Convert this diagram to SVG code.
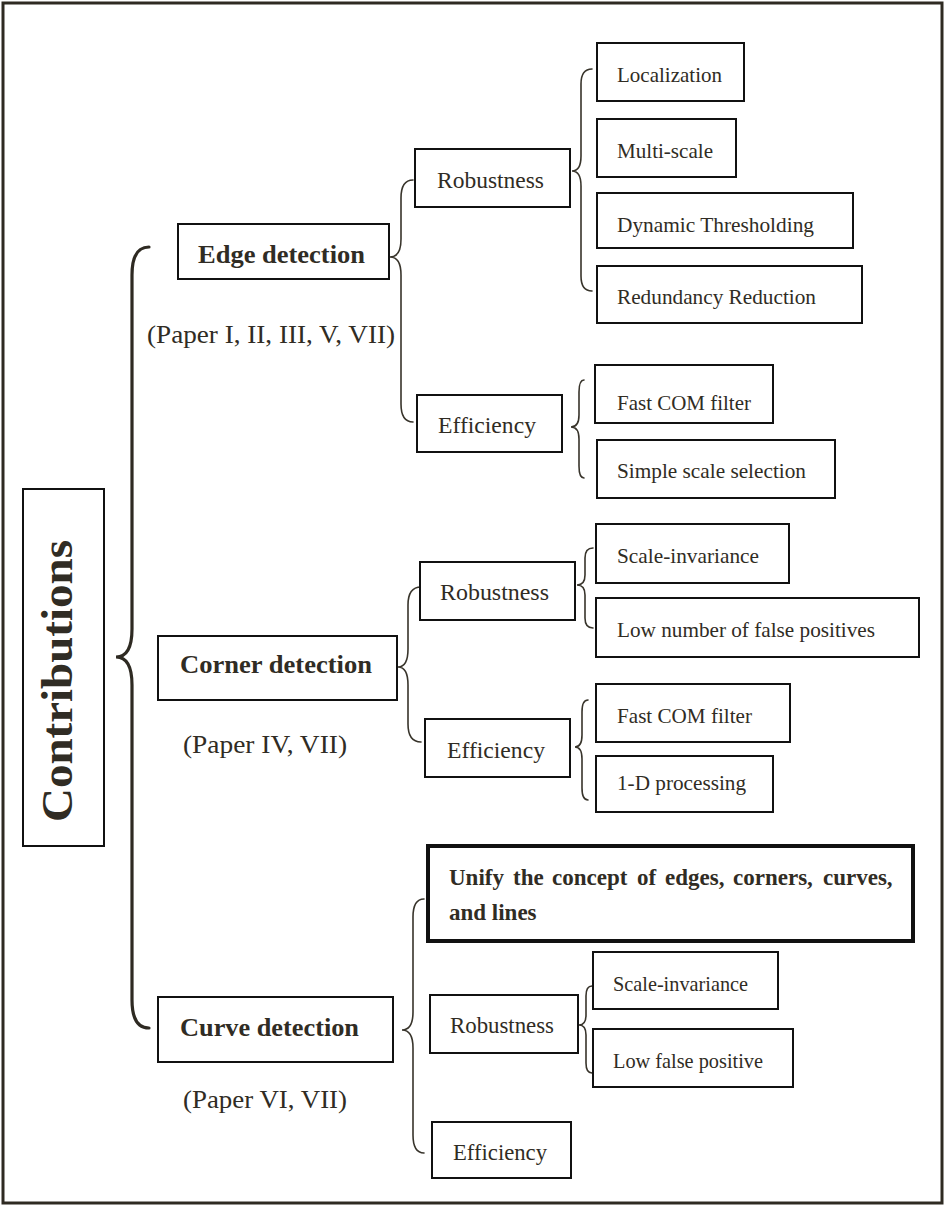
<svg xmlns="http://www.w3.org/2000/svg" width="945" height="1206" viewBox="0 0 945 1206">
<style>
.box{fill:#fff;stroke:#111;stroke-width:2}
.thick{fill:#fff;stroke:#111;stroke-width:4}
.br{fill:none;stroke:#38342b;stroke-width:1.6;stroke-linecap:round}
.bbr{fill:none;stroke:#2e2a22;stroke-width:3.2;stroke-linecap:round}
text{font-family:'Liberation Serif','Times New Roman',Times,Tinos,'Nimbus Roman',serif;fill:#302c24}
.h{font-size:25px;font-weight:bold}
.p{font-size:25px}
.m{font-size:24px}
.l{font-size:21px}
.u{font-size:23px;font-weight:bold}
</style>
<rect x="3" y="3" width="939" height="1200" fill="#fff" stroke="#2e2a22" stroke-width="3"/>
<g id="connectors">
<path class="bbr" d="M149,247 Q132,247 132,275 L132,629 Q132,657 116,657 Q132,657 132,685 L132,1000 Q132,1028 149,1028"/>
<path class="br" d="M413,180 Q401,180 401,198 L401,239 Q401,257 390,257 Q401,257 401,275 L401,404 Q401,422 413,422"/>
<path class="br" d="M592,69 Q581,69 581,84 L581,156 Q581,171 572,171 Q581,171 581,186 L581,276 Q581,291 592,291"/>
<path class="br" d="M584,380 Q579,380 579,392 L579,415 Q579,427 571,427 Q579,427 579,439 L579,466 Q579,478 584,478"/>
<path class="br" d="M421,587 Q408,587 408,605 L408,649 Q408,667 398,667 Q408,667 408,685 L408,724 Q408,742 421,742"/>
<path class="br" d="M593,548 Q585,548 585,558 L585,575 Q585,585 577,585 Q585,585 585,595 L585,618 Q585,628 593,628"/>
<path class="br" d="M588,700 Q582,700 582,712 L582,735 Q582,747 575,747 Q582,747 582,759 L582,788 Q582,800 588,800"/>
<path class="br" d="M424,899 Q413,899 413,917 L413,1012 Q413,1030 402,1030 Q413,1030 413,1048 L413,1135 Q413,1153 424,1153"/>
<path class="br" d="M592,986 Q586,986 586,996 L586,1015 Q586,1025 579,1025 Q586,1025 586,1035 L586,1063 Q586,1073 592,1073"/>
</g>
<g id="contributions">
<rect class="box" x="23" y="489" width="81" height="357"/>
<text transform="translate(72,681) rotate(-90)" x="-141" y="0" font-size="44" font-weight="bold" textLength="282" lengthAdjust="spacingAndGlyphs">Contributions</text>
</g>
<g id="edge">
<rect class="box" x="178" y="224" width="211" height="55"/>
<text class="h" x="198" y="263" textLength="167" lengthAdjust="spacingAndGlyphs">Edge detection</text>
<text class="p" x="147" y="343" textLength="248" lengthAdjust="spacingAndGlyphs">(Paper I, II, III, V, VII)</text>
</g>
<g id="edge-robustness">
<rect class="box" x="415" y="149" width="155" height="58"/>
<text class="m" x="437" y="188" textLength="107" lengthAdjust="spacingAndGlyphs">Robustness</text>
</g>
<g id="edge-efficiency">
<rect class="box" x="417" y="395" width="145" height="57"/>
<text class="m" x="438" y="433" textLength="98" lengthAdjust="spacingAndGlyphs">Efficiency</text>
</g>
<g id="localization">
<rect class="box" x="597" y="43" width="147" height="58"/>
<text class="l" x="617" y="82" textLength="105" lengthAdjust="spacingAndGlyphs">Localization</text>
</g>
<g id="multiscale">
<rect class="box" x="597" y="119" width="139" height="58"/>
<text class="l" x="617" y="158" textLength="96" lengthAdjust="spacingAndGlyphs">Multi-scale</text>
</g>
<g id="dynamic">
<rect class="box" x="597" y="193" width="256" height="55"/>
<text class="l" x="617" y="232" textLength="197" lengthAdjust="spacingAndGlyphs">Dynamic Thresholding</text>
</g>
<g id="redundancy">
<rect class="box" x="597" y="266" width="265" height="57"/>
<text class="l" x="617" y="304" textLength="199" lengthAdjust="spacingAndGlyphs">Redundancy Reduction</text>
</g>
<g id="edge-fastcom">
<rect class="box" x="595" y="365" width="178" height="58"/>
<text class="l" x="617" y="410" textLength="134" lengthAdjust="spacingAndGlyphs">Fast COM filter</text>
</g>
<g id="edge-simplescale">
<rect class="box" x="597" y="440" width="238" height="58"/>
<text class="l" x="617" y="478" textLength="189" lengthAdjust="spacingAndGlyphs">Simple scale selection</text>
</g>
<g id="corner">
<rect class="box" x="158" y="636" width="239" height="64"/>
<text class="h" x="180" y="673" textLength="192" lengthAdjust="spacingAndGlyphs">Corner detection</text>
<text class="p" x="183" y="753" textLength="164" lengthAdjust="spacingAndGlyphs">(Paper IV, VII)</text>
</g>
<g id="corner-robustness">
<rect class="box" x="420" y="562" width="155" height="58"/>
<text class="m" x="440" y="600" textLength="109" lengthAdjust="spacingAndGlyphs">Robustness</text>
</g>
<g id="corner-efficiency">
<rect class="box" x="425" y="719" width="145" height="58"/>
<text class="m" x="447" y="758" textLength="98" lengthAdjust="spacingAndGlyphs">Efficiency</text>
</g>
<g id="corner-scaleinv">
<rect class="box" x="596" y="524" width="193" height="59"/>
<text class="l" x="617" y="563" textLength="142" lengthAdjust="spacingAndGlyphs">Scale-invariance</text>
</g>
<g id="corner-lownumber">
<rect class="box" x="596" y="598" width="323" height="59"/>
<text class="l" x="617" y="637" textLength="258" lengthAdjust="spacingAndGlyphs">Low number of false positives</text>
</g>
<g id="corner-fastcom">
<rect class="box" x="596" y="684" width="194" height="58"/>
<text class="l" x="617" y="723" textLength="135" lengthAdjust="spacingAndGlyphs">Fast COM filter</text>
</g>
<g id="corner-1d">
<rect class="box" x="596" y="756" width="177" height="56"/>
<text class="l" x="617" y="790" textLength="129" lengthAdjust="spacingAndGlyphs">1-D processing</text>
</g>
<g id="curve">
<rect class="box" x="158" y="997" width="235" height="65"/>
<text class="h" x="180" y="1036" textLength="179" lengthAdjust="spacingAndGlyphs">Curve detection</text>
<text class="p" x="183" y="1108" textLength="164" lengthAdjust="spacingAndGlyphs">(Paper VI, VII)</text>
</g>
<g id="unify">
<rect class="thick" x="428" y="846" width="485" height="95"/>
<text class="u" y="885"><tspan x="449">Unify</tspan><tspan x="513">the</tspan><tspan x="552">concept</tspan><tspan x="637">of</tspan><tspan x="665">edges,</tspan><tspan x="733">corners,</tspan><tspan x="823">curves,</tspan></text>
<text class="u" x="449" y="920">and lines</text>
</g>
<g id="curve-robustness">
<rect class="box" x="430" y="995" width="148" height="58"/>
<text class="m" x="450" y="1033" textLength="104" lengthAdjust="spacingAndGlyphs">Robustness</text>
</g>
<g id="curve-scaleinv">
<rect class="box" x="593" y="952" width="185" height="57"/>
<text class="l" x="613" y="991" textLength="135" lengthAdjust="spacingAndGlyphs">Scale-invariance</text>
</g>
<g id="curve-lowfalse">
<rect class="box" x="593" y="1029" width="200" height="58"/>
<text class="l" x="613" y="1068" textLength="150" lengthAdjust="spacingAndGlyphs">Low false positive</text>
</g>
<g id="curve-efficiency">
<rect class="box" x="432" y="1122" width="139" height="56"/>
<text class="m" x="453" y="1160" textLength="94" lengthAdjust="spacingAndGlyphs">Efficiency</text>
</g>
</svg>
